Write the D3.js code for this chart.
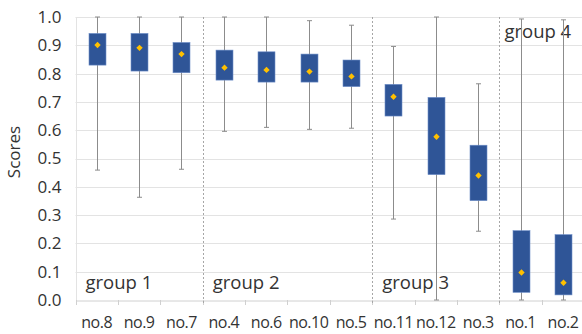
<!DOCTYPE html>
<html>
<head>
<meta charset="utf-8">
<script src="https://cdn.jsdelivr.net/npm/d3@7"></script>
<style>
  body { margin: 0; background: #fff; }
  text { font-family: "Open Sans", sans-serif; fill: #333; }
</style>
</head>
<body>
<div id="chart"></div>
<script>
var names = ["no.8", "no.9", "no.7", "no.4", "no.6", "no.10", "no.5", "no.11", "no.12", "no.3", "no.1", "no.2"];
var whiskLow  = [0.459, 0.363, 0.462, 0.596, 0.610, 0.603, 0.607, 0.286, 0.000, 0.243, 0.000, 0.000];
var boxLow    = [0.830, 0.809, 0.803, 0.777, 0.770, 0.770, 0.754, 0.650, 0.443, 0.351, 0.027, 0.018];
var boxHigh   = [0.942, 0.942, 0.910, 0.883, 0.877, 0.869, 0.848, 0.762, 0.716, 0.547, 0.245, 0.231];
var whiskHigh = [1.000, 1.000, 1.000, 1.000, 1.000, 0.987, 0.971, 0.896, 1.000, 0.764, 0.993, 0.990];
var means     = [0.901, 0.891, 0.869, 0.821, 0.813, 0.807, 0.790, 0.718, 0.577, 0.440, 0.097, 0.061];

var groups = ["group 1", "group 2", "group 3", "group 4"];
var groupStart = ["no.8", "no.4", "no.11", "no.1"];

var yTicks = d3.range(0, 11).map(function(i) { return i / 10; });

var w = 582, h = 334;
var plotL = 75.5, plotR = 584.2, plotT = 17, plotB = 300;

var svg = d3.select("#chart").append("svg")
    .attr("width", w)
    .attr("height", h);

var x = d3.scaleBand().domain(names).range([plotL, plotR]).padding(0);
var y = d3.scaleLinear().domain([0, 1]).range([plotB, plotT]);

var data = names.map(function(d, i) {
  return { name: d, lo: whiskLow[i], q1: boxLow[i], q3: boxHigh[i], hi: whiskHigh[i], mean: means[i] };
});

// gridlines
svg.append("g").selectAll("line")
    .data(yTicks.filter(function(d) { return d > 0; }))
    .enter().append("line")
    .attr("x1", plotL).attr("x2", w)
    .attr("y1", function(d) { return Math.round(y(d)) + 0.5; })
    .attr("y2", function(d) { return Math.round(y(d)) + 0.5; })
    .attr("stroke", "#e3e3e3")
    .attr("stroke-width", 1.2);

// left border line
svg.append("line")
    .attr("x1", 76.5).attr("x2", 76.5)
    .attr("y1", plotT).attr("y2", plotB)
    .attr("stroke", "#e3e3e3");

// y axis labels
var yAxis = d3.axisLeft(y).tickValues(yTicks).tickFormat(d3.format(".1f")).tickSize(0).tickPadding(14);
var ya = svg.append("g").attr("transform", "translate(" + plotL + ",0)").call(yAxis);
ya.select(".domain").remove();
ya.selectAll("text").style("font-size", "17px").style("font-family", "'Open Sans', sans-serif").attr("fill", "#333");

// x axis
var xAxis = d3.axisBottom(x).tickSize(0).tickPadding(16);
var xa = svg.append("g").attr("transform", "translate(0," + (plotB + 0.5) + ")").call(xAxis);
xa.select(".domain").attr("stroke", "#d0d0d0");
xa.selectAll("text").style("font-size", "16px").style("font-family", "'Open Sans', sans-serif").attr("fill", "#333").attr("letter-spacing", "-0.5px");

// tick marks at band boundaries
svg.append("g").selectAll("line")
    .data(names)
    .enter().append("line")
    .attr("x1", function(d) { return Math.round(x(d)) + 0.5; })
    .attr("x2", function(d) { return Math.round(x(d)) + 0.5; })
    .attr("y1", plotB).attr("y2", plotB + 5)
    .attr("stroke", "#d0d0d0");

// group separators
svg.append("g").selectAll("line")
    .data(groupStart.slice(1))
    .enter().append("line")
    .attr("x1", function(d) { return Math.round(x(d)) + 0.5; })
    .attr("x2", function(d) { return Math.round(x(d)) + 0.5; })
    .attr("y1", plotT).attr("y2", plotB + 5)
    .attr("stroke", "#a6a6a6")
    .attr("stroke-dasharray", "2,2");

// group labels
svg.append("g").selectAll("text")
    .data(groups)
    .enter().append("text")
    .attr("x", function(d, i) { return x(groupStart[i]) + (i == 3 ? 5 : 10); })
    .attr("y", function(d, i) { return i == 3 ? 38 : 289; })
    .style("font-size", "18.5px")
    .text(function(d) { return d; });

// y title
svg.append("text")
    .attr("transform", "translate(20,152) rotate(-90)")
    .attr("text-anchor", "middle")
    .style("font-size", "17px")
    .text("Scores");

// boxes
var bw = 17;
var g = svg.append("g").selectAll("g")
    .data(data)
    .enter().append("g")
    .attr("transform", function(d) { return "translate(" + (Math.round(x(d.name) + x.bandwidth() / 2) + 0.5) + ",0)"; });

g.append("line")
    .attr("x1", 0).attr("x2", 0)
    .attr("y1", function(d) { return y(d.hi); })
    .attr("y2", function(d) { return y(d.lo); })
    .attr("stroke", "#8c8c8c");

g.append("line")
    .attr("x1", -2.5).attr("x2", 2.5)
    .attr("y1", function(d) { return y(d.hi); })
    .attr("y2", function(d) { return y(d.hi); })
    .attr("stroke", "#8c8c8c");

g.append("line")
    .attr("x1", -2.5).attr("x2", 2.5)
    .attr("y1", function(d) { return y(d.lo); })
    .attr("y2", function(d) { return y(d.lo); })
    .attr("stroke", "#8c8c8c");

g.append("rect")
    .attr("x", -bw / 2)
    .attr("width", bw)
    .attr("y", function(d) { return y(d.q3); })
    .attr("height", function(d) { return y(d.q1) - y(d.q3); })
    .attr("fill", "#2f5597")
    .attr("stroke", "#6f8fc8")
    .attr("stroke-width", 0.6);

g.append("path")
    .attr("d", d3.symbol().type(d3.symbolDiamond2).size(26))
    .attr("transform", function(d) { return "translate(0," + y(d.mean) + ")"; })
    .attr("fill", "#ffc000");
</script>
</body>
</html>
